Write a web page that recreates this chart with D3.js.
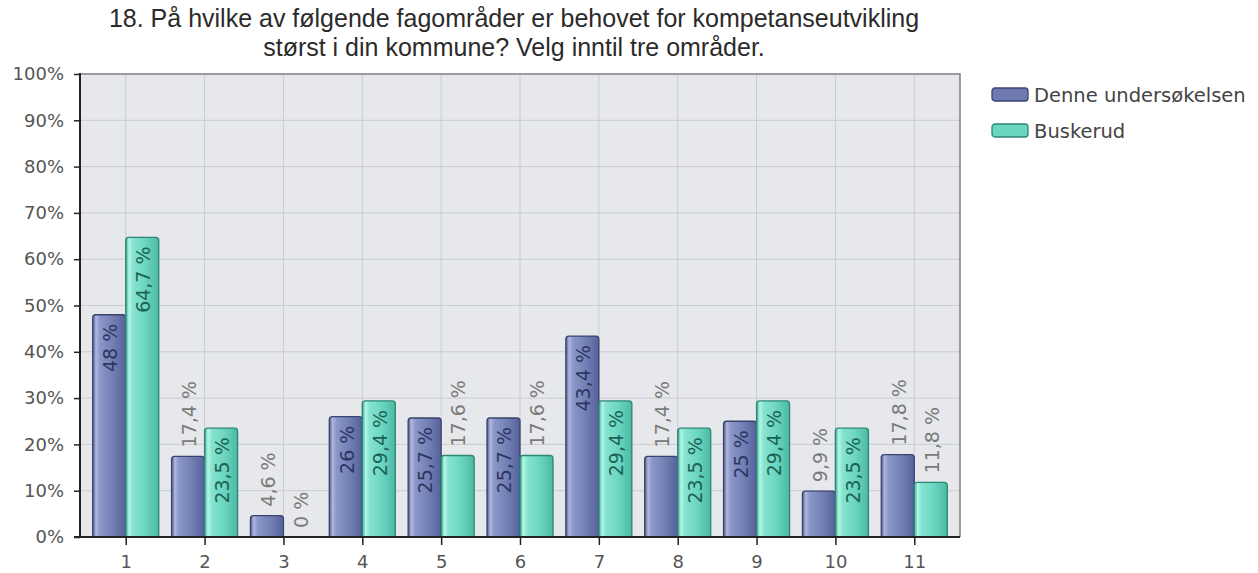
<!DOCTYPE html>
<html><head><meta charset="utf-8">
<script src="https://cdn.jsdelivr.net/npm/d3@7"></script>
<style>body{margin:0;background:#fff}svg{display:block}</style>
</head><body>
<svg id="c" width="1258" height="573"></svg>
<script>
// ---- data ----
const categories = ["1","2","3","4","5","6","7","8","9","10","11"];
const seriesNames = ["Denne undersøkelsen","Buskerud"];
const denne = [48, 17.4, 4.6, 26, 25.7, 25.7, 43.4, 17.4, 25, 9.9, 17.8];
const buskerud = [64.7, 23.5, 0, 29.4, 17.6, 17.6, 29.4, 23.5, 29.4, 23.5, 11.8];
const yTicks = [0,10,20,30,40,50,60,70,80,90,100];
const titleLines = ["18. På hvilke av følgende fagområder er behovet for kompetanseutvikling",
                    "størst i din kommune? Velg inntil tre områder."];

// ---- layout ----
const L = 80, R = 960, T = 74, B = 537;
const barW = 33;
const svg = d3.select("#c");
const fontTick = "'DejaVu Sans', sans-serif";

const x = d3.scalePoint().domain(categories).range([L, R]).padding(0.58);
const y = d3.scaleLinear().domain([0, 100]).range([B, T]);

// gradients
const defs = svg.append("defs");
function grad(id, stops) {
  const g = defs.append("linearGradient").attr("id", id).attr("x1", 0).attr("x2", 1).attr("y1", 0).attr("y2", 0);
  stops.forEach(s => g.append("stop").attr("offset", s[0]).attr("stop-color", s[1]));
}
grad("gBlue", [[0,"#525c8b"],[0.1,"#aeb7df"],[0.22,"#8b97c8"],[0.6,"#7380b5"],[1,"#56619a"]]);
grad("gGreen", [[0,"#42a593"],[0.1,"#b2f6e7"],[0.22,"#86e3cf"],[0.6,"#6bd6bf"],[1,"#4cb9a2"]]);
const fills = ["url(#gBlue)", "url(#gGreen)"];
const strokes = ["#3a436e", "#2b8676"];
const innerLabel = ["#2c3762", "#1c6256"];

// plot background
svg.append("rect").attr("x", L).attr("y", T).attr("width", R - L).attr("height", B - T).attr("fill", "#e6e8eb");

// grid
svg.append("g").selectAll("line.h").data(yTicks.filter(d => d > 0 && d < 100)).join("line")
  .attr("x1", L).attr("x2", R).attr("y1", d => y(d)).attr("y2", d => y(d))
  .attr("stroke", "#c9ccd1").attr("stroke-width", 1);
svg.append("g").selectAll("line.v").data(categories).join("line")
  .attr("x1", d => x(d)).attr("x2", d => x(d)).attr("y1", T).attr("y2", B)
  .attr("stroke", "#c9ccd1").attr("stroke-width", 1);

// border top/right
svg.append("path").attr("d", `M${L},${T}H${R}V${B}`).attr("fill", "none").attr("stroke", "#7d7f84").attr("stroke-width", 1.5);

// bars
function barPath(x0, y0, w, h) {
  if (h <= 0) return "";
  const r = Math.min(3, h / 2);
  return `M${x0},${y0 + h}V${y0 + r}Q${x0},${y0} ${x0 + r},${y0}H${x0 + w - r}Q${x0 + w},${y0} ${x0 + w},${y0 + r}V${y0 + h}Z`;
}
const series = [denne, buskerud];
const fmt = v => String(v).replace(".", ",") + " %";
series.forEach((vals, si) => {
  const g = svg.append("g");
  const data = vals.map((v, i) => ({ v, c: categories[i] }));
  g.selectAll("path").data(data).join("path")
    .attr("d", d => {
      const x0 = x(d.c) + (si === 0 ? -barW : 0);
      return barPath(x0, y(d.v), barW, y(0) - y(d.v));
    })
    .attr("fill", fills[si]).attr("stroke", strokes[si]).attr("stroke-width", 1.3);
  // labels
  g.selectAll("text").data(data).join("text")
    .attr("transform", d => {
      const cx = x(d.c) + (si === 0 ? -barW / 2 : barW / 2) + 1;
      const inside = d.v >= 20;
      const yy = inside ? y(d.v) + 9 : y(d.v) - 9;
      return `translate(${cx},${yy}) rotate(-90)`;
    })
    .attr("text-anchor", d => d.v >= 20 ? "end" : "start")
    .attr("dy", "0.36em")
    .attr("font-family", fontTick).attr("font-size", 19)
    .attr("fill", d => d.v >= 20 ? innerLabel[si] : "#7a7a7a")
    .text(d => fmt(d.v));
});

// axes
const yAxis = svg.append("g").attr("transform", `translate(${L},0)`)
  .call(d3.axisLeft(y).tickValues(yTicks).tickFormat(d => d + "%").tickSize(6).tickPadding(10));
yAxis.select(".domain").remove();
yAxis.selectAll("line").attr("stroke", "#222").attr("stroke-width", 1.5);
yAxis.selectAll("text").attr("font-family", fontTick).attr("font-size", 18).attr("fill", "#555");

const xAxis = svg.append("g").attr("transform", `translate(0,${B})`)
  .call(d3.axisBottom(x).tickSize(8).tickPadding(10));
xAxis.select(".domain").remove();
xAxis.selectAll("line").attr("stroke", "#222").attr("stroke-width", 1.5);
xAxis.selectAll("text").attr("font-family", fontTick).attr("font-size", 18).attr("fill", "#555");

svg.append("line").attr("x1", L).attr("x2", L).attr("y1", T - 1).attr("y2", B + 1).attr("stroke", "#222").attr("stroke-width", 2);
svg.append("line").attr("x1", L - 6).attr("x2", R).attr("y1", B).attr("y2", B).attr("stroke", "#222").attr("stroke-width", 2);

// title
svg.append("g").selectAll("text").data(titleLines).join("text")
  .attr("x", 514).attr("y", (d, i) => 27 + i * 29)
  .attr("text-anchor", "middle")
  .attr("font-family", "'Liberation Sans', Arial, sans-serif").attr("font-size", 25)
  .attr("fill", "#2b2b2b").text(d => d);

// legend
const legFill = ["#6f7bb0", "#6dd6bf"];
const lg = svg.append("g").selectAll("g").data(seriesNames).join("g")
  .attr("transform", (d, i) => `translate(992,${88 + i * 36})`);
lg.append("rect").attr("width", 36).attr("height", 13).attr("rx", 3)
  .attr("fill", (d, i) => legFill[i]).attr("stroke", (d, i) => strokes[i]).attr("stroke-width", 1.3);
lg.append("text").attr("x", 42).attr("y", 6.5).attr("dy", "0.36em")
  .attr("font-family", fontTick).attr("font-size", 19.5).attr("fill", "#444")
  .text(d => d);
</script>
</body></html>
